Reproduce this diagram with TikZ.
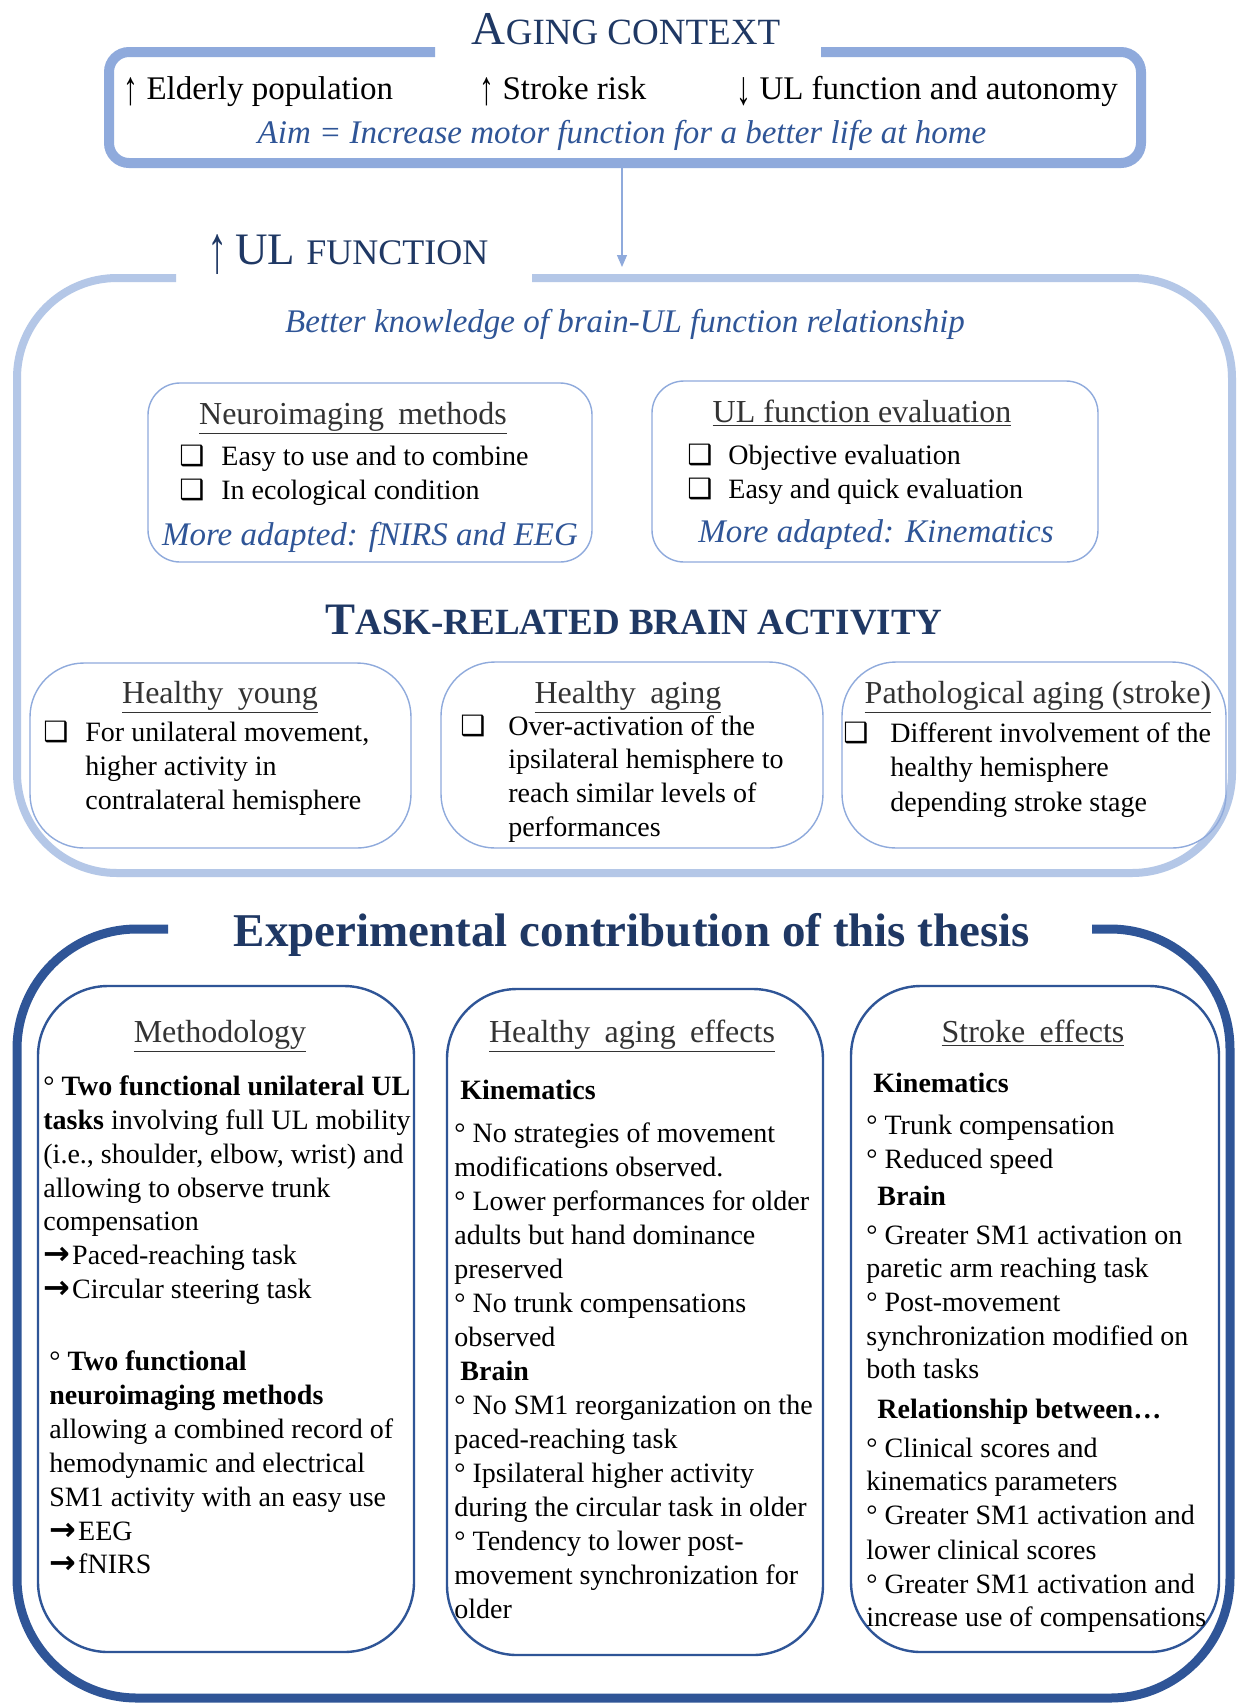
\documentclass[tikz,border=0pt]{standalone}
\usepackage{fontspec}
\usepackage{graphicx}
\setmainfont{Liberation Serif}
\newfontfamily\dejavu{DejaVu Sans}
\usetikzlibrary{arrows.meta}
\definecolor{agingblue}{HTML}{8FAADC}
\definecolor{ulblue}{HTML}{B4C7E7}
\definecolor{darkblue}{HTML}{2F5597}
\definecolor{navy}{HTML}{1F3864}
\definecolor{itblue}{HTML}{2F5597}
\newcommand{\sqbul}{{\dejavu\bfseries ❑}}
\newcommand{\barrow}{{\dejavu\bfseries\fontsize{16pt}{16pt}\selectfont →}\hspace{1pt}}
\newcommand{\uparr}{\raisebox{-2.5pt}{\scalebox{0.9}[1.45]{↑}}}
\newcommand{\downarr}{\raisebox{-2.5pt}{\scalebox{0.9}[1.45]{↓}}}
\begin{document}
\begin{tikzpicture}[x=0.5pt,y=-0.5pt,
  txt/.style={font=\fontsize{14pt}{17pt}\selectfont, inner sep=0pt, anchor=base west},
  txtb/.style={font=\fontsize{14pt}{17pt}\selectfont\bfseries, inner sep=0pt, anchor=base west},
  rowtxt/.style={font=\fontsize{16.5pt}{19pt}\selectfont, inner sep=0pt, anchor=base west},
  hdr/.style={font=\fontsize{16pt}{19pt}\selectfont, inner sep=0pt, anchor=base, text=black!80},
  itl/.style={font=\fontsize{16.5pt}{19pt}\selectfont\itshape, text=itblue, inner sep=0pt, anchor=base},
  thinbox/.style={draw=agingblue, line width=0.7pt},
  resbox/.style={draw=darkblue, line width=1.2pt, rounded corners=35pt},
  agingline/.style={draw=agingblue, line width=5pt, rounded corners=10pt},
  ulline/.style={draw=ulblue, line width=4pt, rounded corners=50pt},
  expline/.style={draw=darkblue, line width=4.5pt, rounded corners=60pt},
]
\fill[white] (0,0) rectangle (1240,1704);
\useasboundingbox (0,0) rectangle (1240,1704);

% ---------- Aging context ----------
\draw[agingline] (821,52) -- (1141,52) -- (1141,163) -- (109,163) -- (109,52) -- (435,52);
\node[inner sep=0pt, anchor=base, text=navy] (agingtitle) at (626,44)
  {{\fontsize{23.5pt}{25pt}\selectfont A}{\fontsize{18.5pt}{20pt}\selectfont GING CONTEXT}};
\node[rowtxt] (elderly) at (123,99) {\uparr\ Elderly population};
\node[rowtxt] (stroke) at (479,99) {\uparr\ Stroke risk};
\node[rowtxt] (ulauto) at (736,99) {\downarr\ UL function and autonomy};
\node[itl] (aim) at (622,143) {Aim = Increase motor function for a better life at home};

\coordinate (arrowstart) at (622,168);
\coordinate (arrowend) at (622,267);
\draw[agingblue, line width=0.6pt, -{Triangle[width=5pt,length=6pt]}] (arrowstart) -- (arrowend);

% ---------- UL function ----------
\draw[ulline] (532,278) -- (1232,278) -- (1232,873) -- (17,873) -- (17,278) -- (176,278);
\node[inner sep=0pt, anchor=base west, text=navy] (ultitle) at (207,264)
  {\raisebox{-4pt}{\fontsize{22.5pt}{25pt}\selectfont\scalebox{0.9}[1.5]{↑}}{\fontsize{22.5pt}{25pt}\selectfont\,UL }{\fontsize{18pt}{20pt}\selectfont FUNCTION}};
\node[itl] (better) at (625,332) {Better knowledge of brain-UL function relationship};

\draw[thinbox, rounded corners=16pt] (148,383) rectangle (592,562);
\draw[thinbox, rounded corners=16pt] (652,381) rectangle (1098,562);
\node[hdr] (neurohdr) at (353,424) {\underline{Neuroimaging\hspace{0.45em}methods}};
\node[txt] (nb1) at (179,465) {\sqbul};
\node[txt] (nb2) at (179,499) {\sqbul};
\node[txt] (nt1) at (221,465) {Easy to use and to combine};
\node[txt] (nt2) at (221,499) {In ecological condition};
\node[itl] (neuroit) at (370,545) {More adapted: fNIRS and EEG};

\node[hdr] (ulhdr) at (862,422) {\underline{UL function evaluation}};
\node[txt] (ub1) at (687,464) {\sqbul};
\node[txt] (ub2) at (687,498) {\sqbul};
\node[txt] (ut1) at (728,464) {Objective evaluation};
\node[txt] (ut2) at (728,498) {Easy and quick evaluation};
\node[itl] (ulit) at (876,542) {More adapted: Kinematics};

\node[inner sep=0pt, anchor=base, text=navy, font=\bfseries] (tasktitle) at (634,634)
  {{\fontsize{22.5pt}{25pt}\selectfont T}{\fontsize{18.5pt}{20pt}\selectfont ASK-RELATED BRAIN ACTIVITY}};

\draw[thinbox, rounded corners=27pt] (30,663) rectangle (411,848);
\draw[thinbox, rounded corners=27pt] (441,662) rectangle (823,848);
\draw[thinbox, rounded corners=27pt] (842,662) rectangle (1226,848);

\node[hdr] (hyhdr) at (220,703) {\underline{Healthy\hspace{0.45em}young}};
\node[txt] (hyb) at (43,741) {\sqbul};
\node[txt] (hy1) at (85,741) {For unilateral movement,};
\node[txt] (hy2) at (85,775) {higher activity in};
\node[txt] (hy3) at (85,809) {contralateral hemisphere};

\node[hdr] (hahdr) at (628,703) {\underline{Healthy\hspace{0.45em}aging}};
\node[txt] (hab) at (460,735) {\sqbul};
\node[txt] (ha1) at (508,735) {Over-activation of the};
\node[txt] (ha2) at (508,768) {ipsilateral hemisphere to};
\node[txt] (ha3) at (508,802) {reach similar levels of};
\node[txt] (ha4) at (508,836) {performances};

\node[hdr] (pahdr) at (1038,703) {\underline{Pathological aging (stroke)}};
\node[txt] (pab) at (843,742) {\sqbul};
\node[txt] (pa1) at (890,742) {Different involvement of the};
\node[txt] (pa2) at (890,776) {healthy hemisphere};
\node[txt] (pa3) at (890,811) {depending stroke stage};

% ---------- Experimental contribution ----------
\draw[expline] (1092,929) -- (1230,929) -- (1230,1698) -- (17,1698) -- (17,929) -- (168,929);
\node[inner sep=0pt, anchor=base, text=navy, font=\fontsize{23.5pt}{26pt}\selectfont\bfseries] (exptitle) at (632,946)
  {Experimental contribution of this thesis};

\draw[resbox] (38,986) rectangle (414,1652);
\draw[resbox] (447,989) rectangle (823,1655);
\draw[resbox] (851,986) rectangle (1219,1652);

\node[hdr] (methhdr) at (220,1042) {\underline{Methodology}};
\foreach \y/\t in {1095/{° \textbf{Two functional unilateral UL}},
  1129/{\textbf{tasks} involving full UL mobility},
  1163/{(i.e., shoulder, elbow, wrist) and},
  1197/{allowing to observe trunk},
  1230/{compensation},
  1264/{\barrow Paced-reaching task},
  1298/{\barrow Circular steering task}}
  \node[txt] (meth\y) at (43,\y) {\t};
\foreach \y/\t in {1370/{° \textbf{Two functional}},
  1404/{\textbf{neuroimaging methods}},
  1438/{allowing a combined record of},
  1472/{hemodynamic and electrical},
  1506/{SM1 activity with an easy use},
  1540/{\barrow EEG},
  1573/{\barrow fNIRS}}
  \node[txt] (methb\y) at (49,\y) {\t};

\node[hdr] (haehdr) at (632,1042) {\underline{Healthy\hspace{0.45em}aging\hspace{0.45em}effects}};
\node[txtb] (haek) at (460,1099) {Kinematics};
\node[txtb] (haeb) at (460,1380) {Brain};
\foreach \y/\t in {1142/{° No strategies of movement},
  1176/{modifications observed.},
  1210/{° Lower performances for older},
  1244/{adults but hand dominance},
  1278/{preserved},
  1312/{° No trunk compensations},
  1346/{observed},
  1414/{° No SM1 reorganization on the},
  1448/{paced-reaching task},
  1482/{° Ipsilateral higher activity},
  1516/{during the circular task in older},
  1550/{° Tendency to lower post-},
  1584/{movement synchronization for},
  1618/{older}}
  \node[txt] (hae\y) at (454,\y) {\t};

\node[hdr] (sehdr) at (1033,1042) {\underline{Stroke\hspace{0.45em}effects}};
\node[txtb] (sek) at (873,1092) {Kinematics};
\node[txtb] (seb) at (877,1205) {Brain};
\node[txtb] (ser) at (877,1418) {Relationship between…};
\foreach \y/\t in {1134/{° Trunk compensation},
  1168/{° Reduced speed},
  1244/{° Greater SM1 activation on},
  1277/{paretic arm reaching task},
  1311/{° Post-movement},
  1345/{synchronization modified on},
  1378/{both tasks},
  1457/{° Clinical scores and},
  1490/{kinematics parameters},
  1524/{° Greater SM1 activation and},
  1559/{lower clinical scores},
  1593/{° Greater SM1 activation and},
  1626/{increase use of compensations}}
  \node[txt] (se\y) at (866,\y) {\t};
\end{tikzpicture}
\end{document}
